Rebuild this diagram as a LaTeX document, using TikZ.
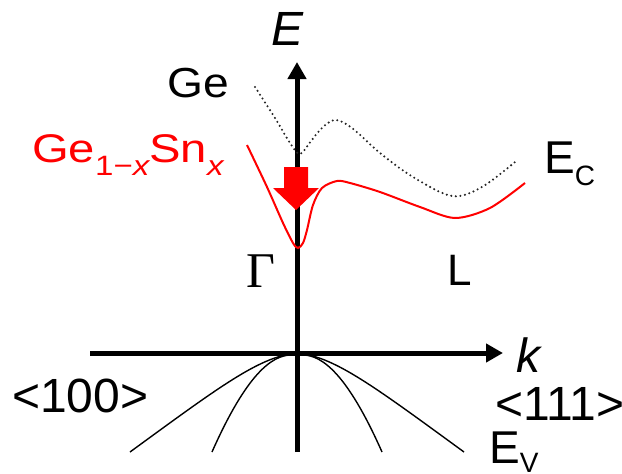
\documentclass[tikz,border=0pt]{standalone}
\usepackage{fontspec}
\setmainfont{Liberation Sans}
\newfontfamily\greekserif{Liberation Serif}
\usetikzlibrary{arrows.meta}
\newcommand{\fsz}[1]{\fontsize{#1}{#1}\selectfont}
\newcommand{\lowered}[3]{\raisebox{-#1pt}{\fsz{#2}#3}}

\begin{document}
\begin{tikzpicture}[x=1pt,y=-1pt,
    axis/.style={line width=5pt,-{Triangle[length=17pt,width=18pt]}},
    lbl/.style={inner sep=0pt,anchor=base west},
    gecurve/.style={black!85,line width=2.3pt,line cap=round,dash pattern=on 0pt off 4.6pt},
    gesncurve/.style={red,line width=2pt},
    band/.style={line width=1.4pt}]
  \useasboundingbox (0,0) rectangle (622,474);
  \coordinate (O) at (297,353);
  \coordinate (Ebot) at (297,452);
  \coordinate (Etop) at (297,62);
  \coordinate (kleft) at (90,353);
  \coordinate (kright) at (503,353);
  \draw[axis] (Ebot) -- (Etop);
  \draw[axis] (kleft) -- (kright);
  \begin{scope}[shift={(O)}]
    \foreach \s in {-1,1} {
      \draw[band] (\s*7,1) .. controls (\s*42,7) and (\s*82,37) .. (\s*167,99);
      \draw[band] (\s*7,2) .. controls (\s*25,3) and (\s*50,20) .. (\s*85,99);
    }
  \end{scope}
  \draw[gecurve] plot[smooth,tension=0.55] coordinates {(255,87) (275,118) (290,143) (300,154)
    (311,141) (322,128) (335,120) (352,128) (380,153) (413,177) (452,196) (482,187) (515,162)};
  \draw[gesncurve] plot[smooth,tension=0.5] coordinates {(247,145) (267,187) (283,223) (293,243)
    (298,248) (303,243) (307,230) (313,205) (322,188) (337,181) (350,183) (380,192) (420,207)
    (455,218) (490,208) (525,183)};
  \fill[red] (284,167) -- (308,167) -- (308,188) -- (319,188) -- (296,210) -- (273,188)
    -- (284,188) -- cycle;
  \node[lbl] (Elab) at (271,45) {\fsz{48}\itshape E};
  \node[lbl] (klab) at (516,372) {\fsz{48}\itshape k};
  \node[lbl] (gelab) at (167,97) {\scalebox{1.1}[1]{\fsz{42}Ge}};
  \node[lbl,red] (gesnlab) at (32,162)
    {\scalebox{1.18}[1]{\fsz{40}Ge\lowered{13}{28}{1−\itshape x}Sn\lowered{13}{28}{\itshape x}}};
  \node[lbl] (eclab) at (544,173) {\fsz{46}E\lowered{12}{28}{C}};
  \node[lbl] (evlab) at (489,463) {\fsz{46}E\lowered{9}{28}{V}};
  \node[lbl] (gamlab) at (246,287) {\fsz{50}\greekserif Γ};
  \node[lbl] (llab) at (447,285) {\fsz{44}L};
  \node[lbl] (dirx) at (12,412) {\fsz{48}<100>};
  \node[lbl] (dirl) at (495,420) {\fsz{48}<111>};
\end{tikzpicture}
\end{document}
